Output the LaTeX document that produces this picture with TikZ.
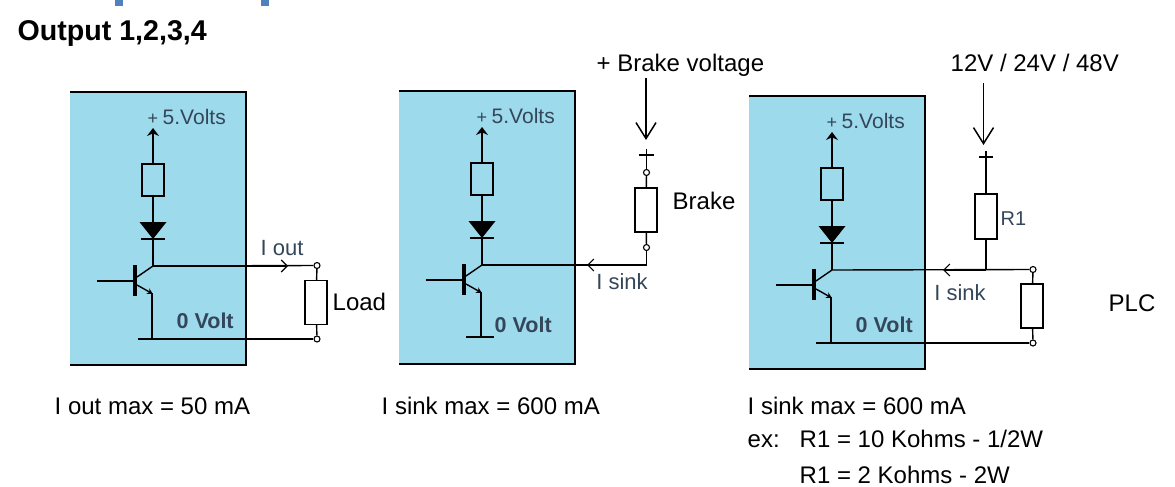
\documentclass[tikz,border=0pt]{standalone}
\usepackage{fontspec}
\setmainfont{Liberation Sans}
\usetikzlibrary{arrows.meta}
\definecolor{panelblue}{HTML}{9DDAEC}
\definecolor{tagink}{HTML}{34465A}
\definecolor{markblue}{HTML}{4F81BD}
\begin{document}
\begin{tikzpicture}[x=1pt,y=-1pt,
				line width=1.4pt,
				res/.style={rectangle,draw,line width=1.4pt,minimum width=22pt,inner sep=0pt},
				dot/.style={circle,draw,fill=white,line width=1.1pt,minimum size=6pt,inner sep=0pt},
				txt/.style={font=\fontsize{24}{28}\selectfont,anchor=west,inner sep=0pt,text=black,text height=17pt,text depth=0pt},
				tag/.style={font=\fontsize{22}{24}\selectfont,text=tagink,inner sep=0pt,text height=15pt,text depth=0pt},
				zero/.style={font=\fontsize{21.5}{24}\selectfont\bfseries,text=tagink,anchor=west,inner sep=0pt,text height=15pt,text depth=0pt},
				plus/.style={-{Stealth[length=8pt,width=12pt]},line width=1.4pt},
				feed/.style={-{Straight Barb[length=16pt,width=20pt,line width=1.5pt]},line width=1.5pt},
				flow/.style={-{Straight Barb[length=6pt,width=12pt,line width=1.1pt]},line width=1.4pt}]
\useasboundingbox (0,0) rectangle (1175,487);
\fill[markblue] (115,0) rectangle (122.5,6);
\fill[markblue] (261,0) rectangle (268.5,6);
\node[txt,font=\fontsize{28.6}{32}\selectfont\bfseries,text height=20.5pt] (title) at (17,30) {Output 1,2,3,4};

% the three stages, same circuit, x and y of the collector node
\foreach \n/\jx/\jy/\gy in {a/153/266/73,b/482/265/72,c/832/270/73}{
\begin{scope}[shift={(\jx,\jy)}]
	\fill[panelblue] (-83,-174) rectangle (93,99);
	\draw[line width=2.2pt] (-83,-174) -- (93,-174) -- (93,99) -- (-83,99);
	\coordinate (j\n) at (0,0);
	\coordinate (top\n) at (0,-138);
	\node[res,minimum height=32pt] (r\n) at (0,-86) {};
	\coordinate (dt\n) at (0,-44);
	\coordinate (db\n) at (0,-27);
	\draw[plus] (r\n) -- (top\n);
	\node[tag,anchor=west,font=\fontsize{21}{24}\selectfont] (v\n) at (-6,-149) {{\fontsize{18}{18}\selectfont+}\hspace{4.5pt}5.Volts};
	\draw (r\n) -- (dt\n);
	\fill (-13.5,-44) -- (13.5,-44) -- (db\n) -- cycle;
	\draw[line width=1.8pt] (-12,-27) -- (12,-27);
	\draw (db\n) -- (j\n);
	% transistor
	\draw[line width=3.6pt] (-18,-1) -- (-18,30);
	\draw (-56,15) -- (-18,15);
	\draw (-16,11) -- (j\n);
	\draw[-{Stealth[length=6pt,width=6pt]}] (-16,19) -- (0,28);
	\coordinate (g\n) at (-1,\gy);
	\draw (-1,27) -- (g\n);
\end{scope}}

% stage 1
\node[dot] (oa) at (317,265.5) {};
\node[dot] (ob) at (317,339) {};
\node[res,minimum height=44pt] (load) at (316,302.5) {};
\draw (ja) -- (oa);
\draw[flow] (ja) -- (288,266);
\draw (138,339) -- (ob);
\draw (oa) -- (load);
\draw (load) -- (ob);
\node[tag] (iout) at (282,248) {I out};
\node[zero] (za) at (176,321) {0 Volt};
\node[txt] (ltxt) at (332,301.5) {Load};
\node[txt] (ma) at (54,405.5) {I out max = 50 mA};

% stage 2
\coordinate (cb) at (646.5,265);
\node[dot] (ba) at (646.5,172.5) {};
\node[dot] (bb) at (646.5,247.5) {};
\node[res,minimum height=44pt] (brk) at (646,210) {};
\coordinate (pb) at (646.5,149);
\draw[line width=1.8pt] (639,155) -- (654,155);
\draw (pb) -- (ba);
\draw (ba) -- (brk);
\draw (brk) -- (bb);
\draw (bb) -- (cb);
\draw (cb) -- (jb);
\draw[flow] (cb) -- (587,265);
\draw (466,337) -- (494,337);
\node (bv) [txt] at (596,63) {+ Brake voltage};
\draw[feed] (646,78) -- (646,140);
\node[txt] (btxt) at (672,201) {Brake};
\node[tag] (isb) at (622,282) {I sink};
\node[zero] (zb) at (494,325) {0 Volt};
\node[txt] (mb) at (381,405.5) {I sink max = 600 mA};

% stage 3
\node[dot] (pa) at (1033,269.5) {};
\node[dot] (pc) at (1033,343) {};
\node[res,minimum height=44pt] (plc) at (1032,306) {};
\node[res,minimum height=45pt] (rone) at (986,216.5) {};
\coordinate (pr) at (986,151);
\coordinate (tr) at (986,270);
\draw[line width=1.8pt] (979,157) -- (993,157);
\draw (pr) -- (rone);
\draw (rone) -- (tr);
\draw (jc) -- (pa);
\draw[flow] (tr) -- (943,270);
\draw (816,343) -- (pc);
\draw (pa) -- (plc);
\draw (plc) -- (pc);
\node[txt] (vs) at (950,63) {12V / 24V / 48V};
\draw[feed] (983.5,83) -- (983.5,145);
\node[tag,anchor=west,font=\fontsize{20}{24}\selectfont] (rt) at (1000,218) {R1};
\node[tag] (isc) at (960,293) {I sink};
\node[zero] (zc) at (855,325) {0 Volt};
\node[txt] (ptxt) at (1108,303) {PLC};
\node[txt] (mc) at (747,406) {I sink max = 600 mA};
\node[txt] (ex) at (747,439) {ex:};
\node[txt] (ra) at (799,439) {R1 = 10 Kohms - 1/2W};
\node[txt] (rb) at (799,475) {R1 = 2 Kohms - 2W};
\end{tikzpicture}
\end{document}
